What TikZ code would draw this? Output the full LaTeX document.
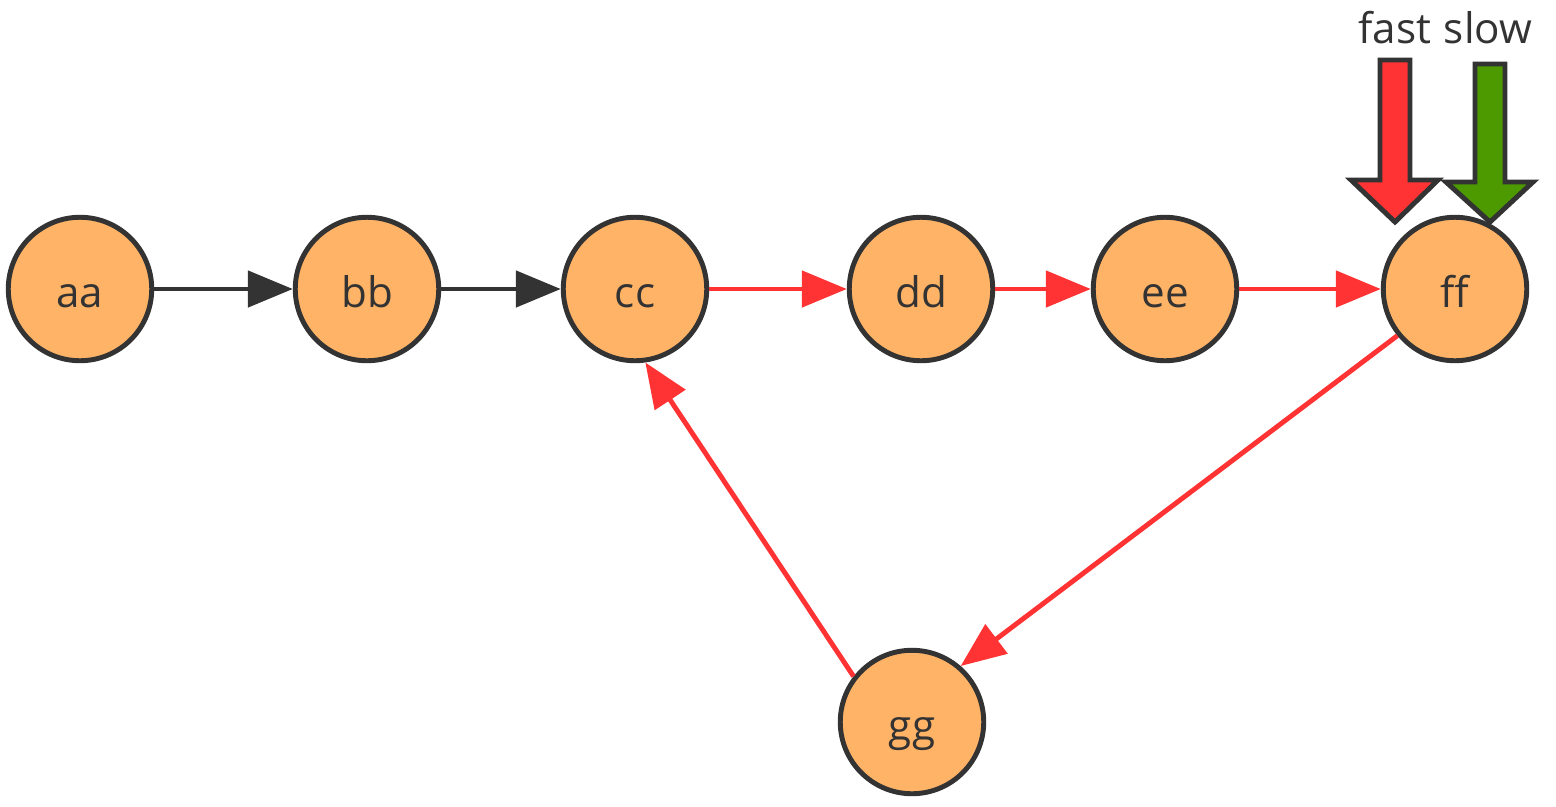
\documentclass[tikz,border=0pt]{standalone}
\usepackage{fontspec}
\setmainfont{Open Sans}
\usetikzlibrary{arrows.meta}
\definecolor{NodeFill}{HTML}{FFB366}
\definecolor{NodeLine}{HTML}{333333}
\definecolor{HotRed}{HTML}{FF3333}
\definecolor{SlowGreen}{HTML}{4D9900}
\tikzset{
  state/.style={circle,draw=NodeLine,fill=NodeFill,line width=2.8pt,
    minimum size=2.87cm,inner sep=0pt,font=\fontsize{24}{28}\selectfont,
    text=NodeLine,text height=0.74cm,text depth=0pt},
  plain/.style={draw=NodeLine,line width=2.8pt,
    -{Triangle[length=0.9cm,width=0.72cm]}},
  hot/.style={draw=HotRed,line width=2.8pt,
    -{Triangle[length=0.9cm,width=0.72cm]}},
  tag/.style={font=\fontsize{24}{28}\selectfont,text=NodeLine}
}
\begin{document}
\begin{tikzpicture}[x=0.02cm,y=-0.02cm]
  \useasboundingbox (0,0) rectangle (1556,806);
  \foreach \n/\px/\py in {aa/80/289, bb/367/289, cc/635/289, dd/921/289,
                          ee/1165/289, ff/1455/289, gg/912/722}{
    \node[state] (\n) at (\px,\py) {\n};
  }
  % black part of the path
  \draw[plain] (aa) -- (bb);
  \draw[plain] (bb) -- (cc);
  % red loop
  \draw[hot] (cc) -- (dd);
  \draw[hot] (dd) -- (ee);
  \draw[hot] (ee) -- (ff);
  \draw[hot] (ff.-141) -- (gg.49);
  \draw[hot] (gg.142) -- (cc.-82);
  % the two pointers above ff
  \node[tag] (fast) at (1395,28) {fast};
  \node[tag] (slow) at (1488,28) {slow};
  \filldraw[fill=HotRed,draw=NodeLine,line width=2.8pt]
    (1380,60) -- (1410,60) -- (1410,180) -- (1438,180) -- (1395,222)
    -- (1351,180) -- (1380,180) -- cycle;
  \filldraw[fill=SlowGreen,draw=NodeLine,line width=2.8pt]
    (1475,64) -- (1505,64) -- (1505,182) -- (1533,182) -- (1490,222)
    -- (1446,182) -- (1475,182) -- cycle;
\end{tikzpicture}
\end{document}
